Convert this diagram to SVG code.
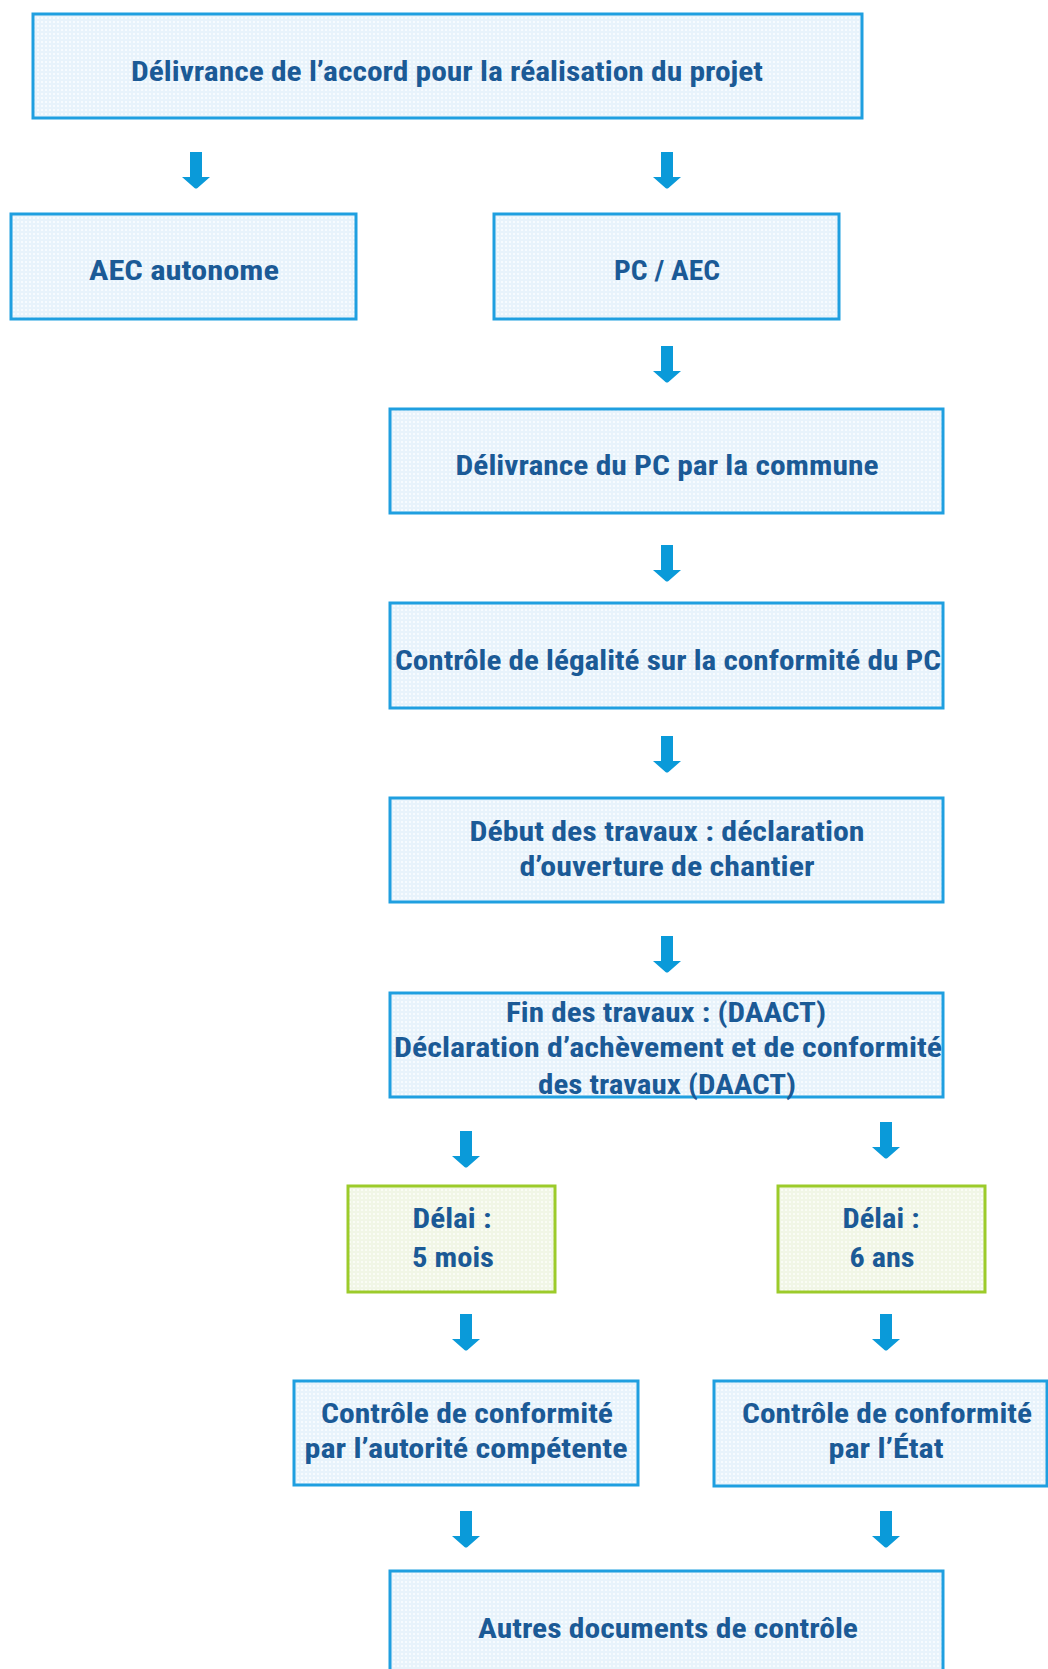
<svg xmlns="http://www.w3.org/2000/svg" width="1048" height="1669" viewBox="0 0 1048 1669">
<defs>
<pattern id="dotsB" width="4" height="4" patternUnits="userSpaceOnUse">
<rect width="4" height="4" fill="#e8f3fb"/>
<rect x="1" y="1" width="2" height="2" fill="#f7fbfe"/>
</pattern>
<pattern id="dotsG" width="4" height="4" patternUnits="userSpaceOnUse">
<rect width="4" height="4" fill="#f1f6e6"/>
<rect x="1" y="1" width="2" height="2" fill="#fafcf5"/>
</pattern>
<path id="arr" d="M-6,0 H6 V25 H14 L1.5,36 Q0,37 -1.5,36 L-14,25 H-6 Z"/>
</defs>
<style>
.b{fill:url(#dotsB);stroke:#1f9fe0;stroke-width:3}
.g{fill:url(#dotsG);stroke:#9ccb2a;stroke-width:3}
.t{font-family:"Liberation Sans Narrow","Roboto Condensed","Roboto","Liberation Sans",sans-serif;font-weight:bold;font-size:28px;fill:#1b5a96;text-anchor:middle}
.a{fill:#0a9ad9}
</style>
<rect width="1048" height="1669" fill="#ffffff"/>
<g id="connectors">
<use href="#arr" class="a" x="196" y="152"/>
<use href="#arr" class="a" x="667" y="152"/>
<use href="#arr" class="a" x="667" y="346"/>
<use href="#arr" class="a" x="667" y="545"/>
<use href="#arr" class="a" x="667" y="736"/>
<use href="#arr" class="a" x="667" y="936"/>
<use href="#arr" class="a" x="466" y="1131"/>
<use href="#arr" class="a" x="886" y="1122"/>
<use href="#arr" class="a" x="466" y="1314"/>
<use href="#arr" class="a" x="886" y="1314"/>
<use href="#arr" class="a" x="466" y="1511"/>
<use href="#arr" class="a" x="886" y="1511"/>
</g>
<g id="n-top">
<rect class="b" x="33" y="14" width="829" height="104"/>
<text class="t" x="447" y="81" textLength="632" lengthAdjust="spacingAndGlyphs">Délivrance de l’accord pour la réalisation du projet</text>
</g>
<g id="n-aec">
<rect class="b" x="11" y="214" width="345" height="105"/>
<text class="t" x="184" y="280" textLength="190" lengthAdjust="spacingAndGlyphs">AEC autonome</text>
</g>
<g id="n-pcaec">
<rect class="b" x="494" y="214" width="345" height="105"/>
<text class="t" x="667" y="280" textLength="106" lengthAdjust="spacingAndGlyphs">PC / AEC</text>
</g>
<g id="n-delivpc">
<rect class="b" x="390" y="409" width="553" height="104"/>
<text class="t" x="667" y="475" textLength="423" lengthAdjust="spacingAndGlyphs">Délivrance du PC par la commune</text>
</g>
<g id="n-legal">
<rect class="b" x="390" y="603" width="553" height="105"/>
<text class="t" x="668" y="670" textLength="546" lengthAdjust="spacingAndGlyphs">Contrôle de légalité sur la conformité du PC</text>
</g>
<g id="n-debut">
<rect class="b" x="390" y="798" width="553" height="104"/>
<text class="t" x="667" y="841" textLength="395" lengthAdjust="spacingAndGlyphs">Début des travaux : déclaration</text>
<text class="t" x="667" y="876" textLength="295" lengthAdjust="spacingAndGlyphs">d’ouverture de chantier</text>
</g>
<g id="n-fin">
<rect class="b" x="390" y="993" width="553" height="104"/>
<text class="t" x="666" y="1022" textLength="320" lengthAdjust="spacingAndGlyphs">Fin des travaux : (DAACT)</text>
<text class="t" x="668" y="1057" textLength="548" lengthAdjust="spacingAndGlyphs">Déclaration d’achèvement et de conformité</text>
<text class="t" x="667" y="1094" textLength="258" lengthAdjust="spacingAndGlyphs">des travaux (DAACT)</text>
</g>
<g id="n-delai5">
<rect class="g" x="348" y="1186" width="207" height="106"/>
<text class="t" x="452" y="1228" textLength="79" lengthAdjust="spacingAndGlyphs">Délai :</text>
<text class="t" x="453" y="1267" textLength="82" lengthAdjust="spacingAndGlyphs">5 mois</text>
</g>
<g id="n-delai6">
<rect class="g" x="778" y="1186" width="207" height="106"/>
<text class="t" x="881" y="1228" textLength="77" lengthAdjust="spacingAndGlyphs">Délai :</text>
<text class="t" x="882" y="1267" textLength="65" lengthAdjust="spacingAndGlyphs">6 ans</text>
</g>
<g id="n-ccauto">
<rect class="b" x="294" y="1381" width="344" height="104"/>
<text class="t" x="467" y="1423" textLength="292" lengthAdjust="spacingAndGlyphs">Contrôle de conformité</text>
<text class="t" x="466" y="1458" textLength="323" lengthAdjust="spacingAndGlyphs">par l’autorité compétente</text>
</g>
<g id="n-ccetat">
<rect class="b" x="714" y="1381" width="333" height="105"/>
<text class="t" x="887" y="1423" textLength="290" lengthAdjust="spacingAndGlyphs">Contrôle de conformité</text>
<text class="t" x="886" y="1458" textLength="115" lengthAdjust="spacingAndGlyphs">par l’État</text>
</g>
<g id="n-autres">
<rect class="b" x="390" y="1571" width="553" height="120"/>
<text class="t" x="668" y="1638" textLength="380" lengthAdjust="spacingAndGlyphs">Autres documents de contrôle</text>
</g>
</svg>
